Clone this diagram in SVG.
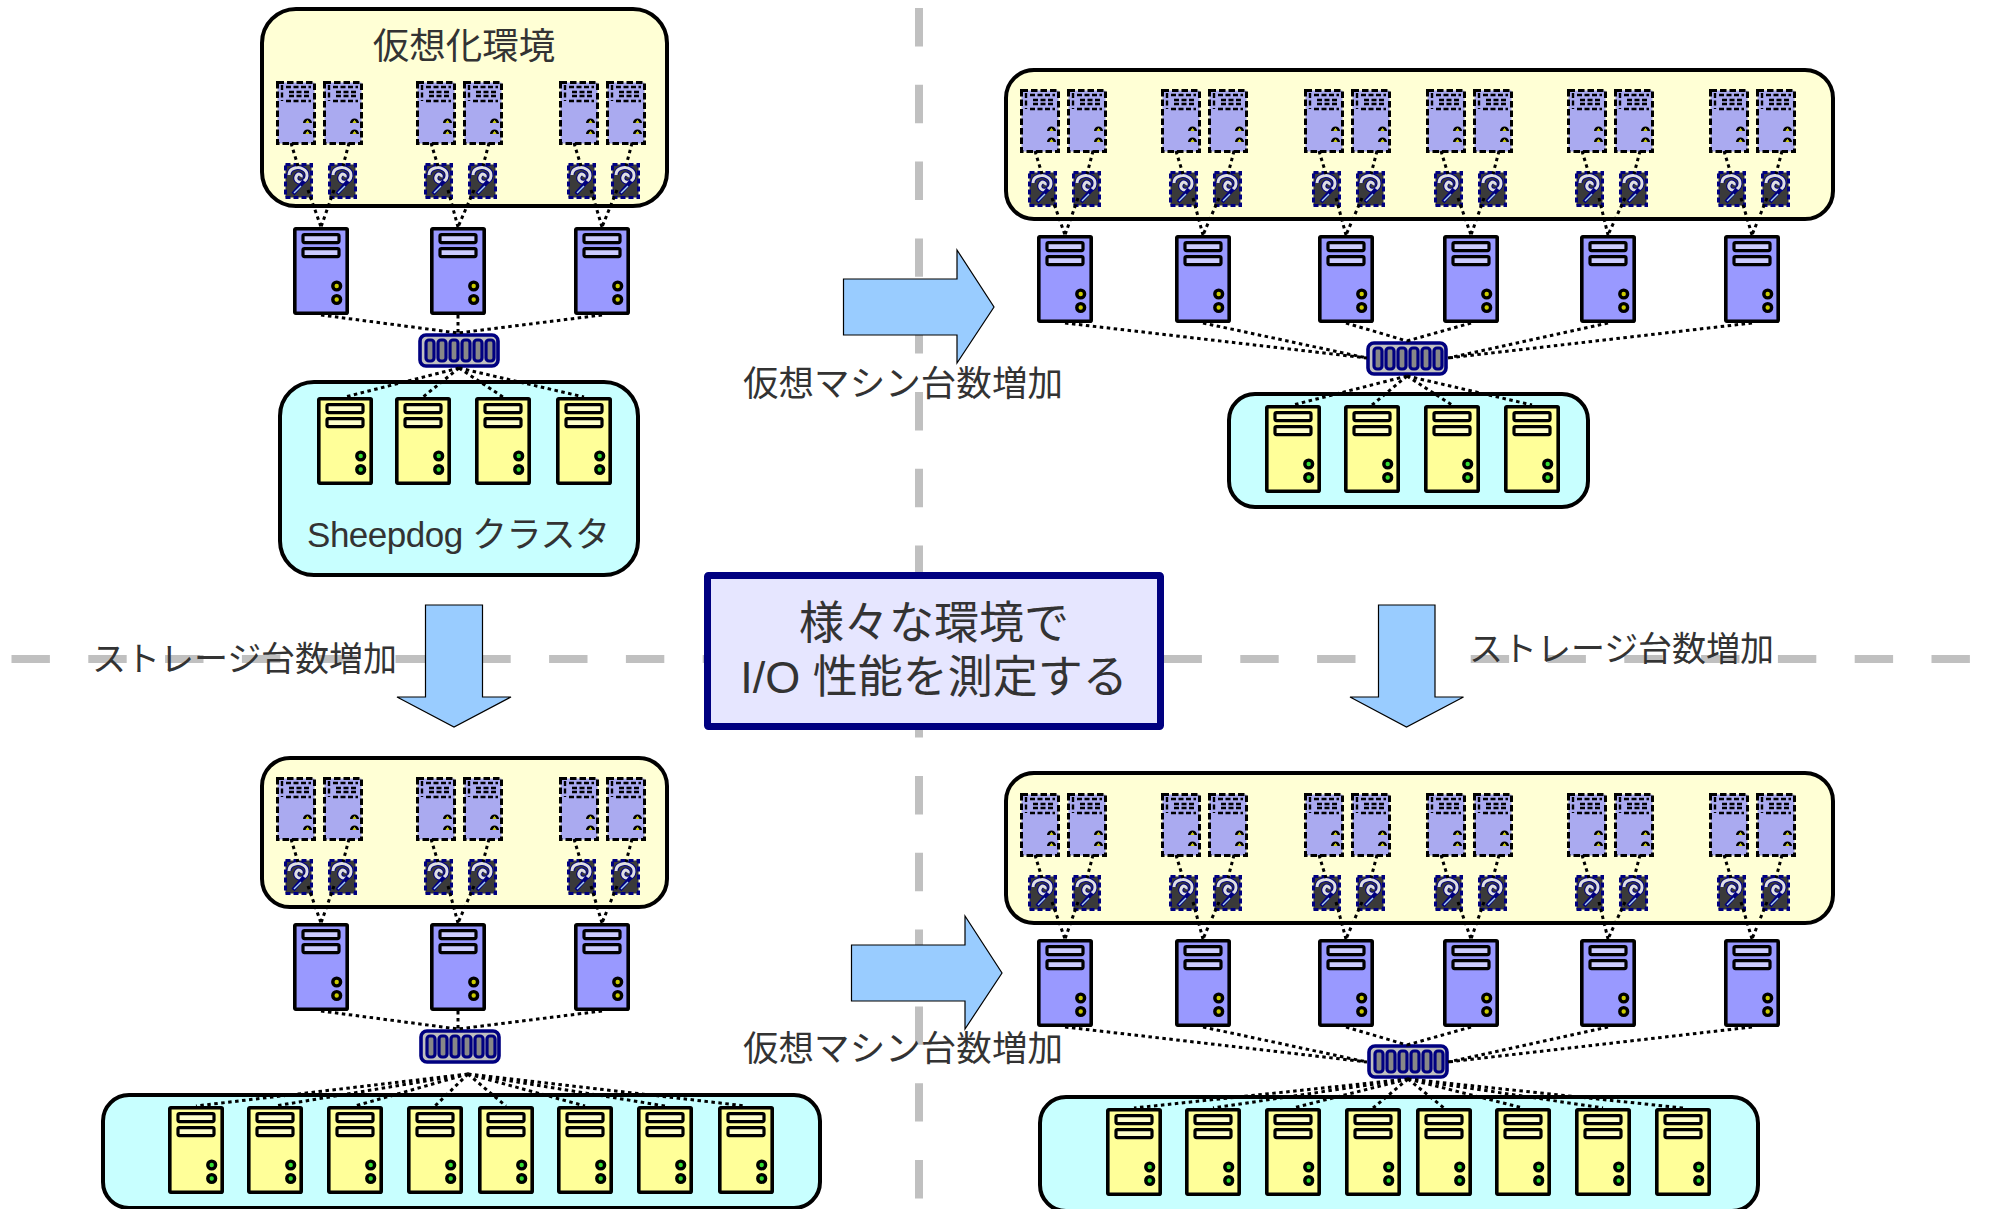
<svg xmlns="http://www.w3.org/2000/svg" xmlns:xlink="http://www.w3.org/1999/xlink" width="1989" height="1209" viewBox="0 0 1989 1209">
<style>
text{font-family:"Liberation Sans","Noto Sans CJK JP",sans-serif;fill:#333}
.guide{stroke:#c0c0c0;stroke-width:8;stroke-dasharray:38.4 38.4;fill:none}
.arrow{fill:#99ccff;stroke:#000;stroke-width:1.2;stroke-linejoin:miter}
.env{fill:#ffffd5;stroke:#000;stroke-width:4}
.cluster{fill:#c8ffff;stroke:#000;stroke-width:4}
.dot{fill:none;stroke:#000;stroke-width:3;stroke-dasharray:3.5 3.5}
.case{stroke:#000;stroke-width:3.6;stroke-linejoin:round}
.slot{stroke:#000;stroke-width:3.2}
.led{stroke:#000;stroke-width:3.4}
.vmd{fill:none;stroke:#000;stroke-width:2.4;stroke-dasharray:5 2.5}
</style>
<defs>
<g id="server-blue">
<rect class="case" x="1.8" y="1.8" width="52.4" height="84.4" rx="1" fill="#9999ff"/>
<rect class="slot" x="10" y="7.6" width="36" height="8" rx="1.5" fill="#ccccff"/>
<rect class="slot" x="10" y="21.6" width="36" height="8" rx="1.5" fill="#ccccff"/>
<circle class="led" cx="43.7" cy="59" r="3.9" fill="#cccc00"/>
<circle class="led" cx="43.7" cy="72.5" r="3.9" fill="#cccc00"/>
</g>
<g id="server-yellow">
<rect class="case" x="1.8" y="1.8" width="52.4" height="84.4" rx="1" fill="#ffff99"/>
<rect class="slot" x="10" y="7.6" width="36" height="8" rx="1.5" fill="#ffffcc"/>
<rect class="slot" x="10" y="21.6" width="36" height="8" rx="1.5" fill="#ffffcc"/>
<circle class="led" cx="43.7" cy="59" r="3.9" fill="#33dd33"/>
<circle class="led" cx="43.7" cy="72.5" r="3.9" fill="#33dd33"/>
</g>
<g id="vm">
<rect x="1.5" y="1.5" width="37" height="61" fill="#aaaaf0" stroke="#000" stroke-width="3" stroke-dasharray="6.5 3"/>
<path class="vmd" d="M6 4V20M10 6H35M13 11H33M13 15H33M10 20H35"/>
<path d="M27 42a4.500 4.500 0 0 1 9 0h-2.500l-2-3-2 3zM27 53a4.500 4.500 0 0 1 9 0h-2.500l-2-3-2 3z" fill="#000"/>
<path d="M29.500 42l2-3 2 3zM29.500 53l2-3 2 3z" fill="#cccc00"/>
</g>
<g id="disk">
<rect x="1.500" y="1.500" width="26" height="33" fill="#3a3a3a" stroke="#000080" stroke-width="3" stroke-dasharray="5 3"/>
<path d="M5 12C5 5 14 3 19 6C25 9 24 17 18 19C13 20 10 16 13 12C15 10 18 12 17 14" fill="none" stroke="#000080" stroke-width="5"/>
<path d="M5 12C5 5 14 3 19 6C25 9 24 17 18 19C13 20 10 16 13 12C15 10 18 12 17 14" fill="none" stroke="#e0e0e0" stroke-width="3"/>
<path d="M20 18L9 31" fill="none" stroke="#000080" stroke-width="4"/>
<path d="M17 23L10 30" fill="none" stroke="#a8d0f0" stroke-width="1.500"/>
</g>
<g id="switch">
<rect x="2" y="2" width="78" height="31" rx="6" fill="#c0c0c0" stroke="#000080" stroke-width="3.600"/>
<g fill="#888" stroke="#000080" stroke-width="3.200">
<rect x="8" y="7" width="8" height="21" rx="3"/>
<rect x="20" y="7" width="8" height="21" rx="3"/>
<rect x="32" y="7" width="8" height="21" rx="3"/>
<rect x="44" y="7" width="8" height="21" rx="3"/>
<rect x="56" y="7" width="8" height="21" rx="3"/>
<rect x="68" y="7" width="8" height="21" rx="3"/>
</g>
</g>
<path id="links-left" d="M291 143L298 166M349 143L343 166M308 190L321 227M334 190L321 227M431 143L438 166M489 143L483 166M448 190L458 227M474 190L458 227M574 143L581 166M632 143L626 166M591 190L602 227M617 190L602 227M321 315L458 333M458 315L458 333M602 315L458 333"/>
<path id="links-right" d="M1035 151L1042 174M1093 151L1087 174M1052 198L1065 235M1078 198L1065 235M1176 151L1183 174M1234 151L1228 174M1193 198L1203 235M1219 198L1203 235M1319 151L1326 174M1377 151L1371 174M1336 198L1346 235M1362 198L1346 235M1441 151L1448 174M1499 151L1493 174M1458 198L1471 235M1484 198L1471 235M1582 151L1589 174M1640 151L1634 174M1599 198L1608 235M1625 198L1608 235M1724 151L1731 174M1782 151L1776 174M1741 198L1752 235M1767 198L1752 235M1065 323L1367 358M1203 323L1367 358M1346 323L1407 341M1471 323L1407 341M1608 323L1448 358M1752 323L1448 358"/>
</defs>

<g id="guides">
<path class="guide" d="M919 8V1209"/>
<path class="guide" d="M11.500 659H1989"/>
</g>

<g id="arrows">
<path id="arrow-right-top" class="arrow" d="M843.500 279H957V250L994 307L957 363V335H843.500Z"/>
<path id="arrow-right-bottom" class="arrow" d="M851.500 945H965V916L1002 973L965 1029V1001H851.500Z"/>
<path id="arrow-down-left" class="arrow" d="M425.500 605H482.500V697H511L454 727L397 697H425.500Z"/>
<path id="arrow-down-right" class="arrow" d="M1378.500 605H1435V697H1463.500L1406.500 727L1350 697H1378.500Z"/>
</g>

<g id="containers">
<rect id="env-tl" class="env" x="262" y="9" width="405" height="197" rx="34"/>
<rect id="env-tr" class="env" x="1006" y="70" width="827" height="149" rx="28"/>
<rect id="env-bl" class="env" x="262" y="758" width="405" height="149" rx="28"/>
<rect id="env-br" class="env" x="1006" y="773" width="827" height="150" rx="28"/>
<rect id="cluster-tl" class="cluster" x="280" y="382" width="358" height="193" rx="34"/>
<rect id="cluster-tr" class="cluster" x="1229" y="394" width="359" height="113" rx="26"/>
<rect id="cluster-bl" class="cluster" x="103" y="1095" width="717" height="113" rx="26"/>
<rect id="cluster-br" class="cluster" x="1040" y="1097" width="718" height="114" rx="26"/>
</g>

<g id="node-tl">
<g id="tl-vm1"><use href="#vm" x="276" y="81"/></g><g id="tl-vm2"><use href="#vm" x="323" y="81"/></g><g id="tl-vm3"><use href="#vm" x="416" y="81"/></g><g id="tl-vm4"><use href="#vm" x="463" y="81"/></g><g id="tl-vm5"><use href="#vm" x="559" y="81"/></g><g id="tl-vm6"><use href="#vm" x="606" y="81"/></g>
<g id="tl-disk1"><use href="#disk" x="284" y="163"/></g><g id="tl-disk2"><use href="#disk" x="328" y="163"/></g><g id="tl-disk3"><use href="#disk" x="424" y="163"/></g><g id="tl-disk4"><use href="#disk" x="468" y="163"/></g><g id="tl-disk5"><use href="#disk" x="567" y="163"/></g><g id="tl-disk6"><use href="#disk" x="611" y="163"/></g>
<g id="tl-host1"><use href="#server-blue" x="293" y="227"/></g><g id="tl-host2"><use href="#server-blue" x="430" y="227"/></g><g id="tl-host3"><use href="#server-blue" x="574" y="227"/></g>
<g id="tl-switch"><use href="#switch" x="418" y="333"/></g>
<g id="tl-store1"><use href="#server-yellow" x="317" y="397"/></g><g id="tl-store2"><use href="#server-yellow" x="395" y="397"/></g><g id="tl-store3"><use href="#server-yellow" x="475" y="397"/></g><g id="tl-store4"><use href="#server-yellow" x="556" y="397"/></g>
</g>

<g id="node-tr">
<g id="tr-vm1"><use href="#vm" x="1020" y="89"/></g><g id="tr-vm2"><use href="#vm" x="1067" y="89"/></g><g id="tr-vm3"><use href="#vm" x="1161" y="89"/></g><g id="tr-vm4"><use href="#vm" x="1208" y="89"/></g><g id="tr-vm5"><use href="#vm" x="1304" y="89"/></g><g id="tr-vm6"><use href="#vm" x="1351" y="89"/></g><g id="tr-vm7"><use href="#vm" x="1426" y="89"/></g><g id="tr-vm8"><use href="#vm" x="1473" y="89"/></g><g id="tr-vm9"><use href="#vm" x="1567" y="89"/></g><g id="tr-vm10"><use href="#vm" x="1614" y="89"/></g><g id="tr-vm11"><use href="#vm" x="1709" y="89"/></g><g id="tr-vm12"><use href="#vm" x="1756" y="89"/></g>
<g id="tr-disk1"><use href="#disk" x="1028" y="171"/></g><g id="tr-disk2"><use href="#disk" x="1072" y="171"/></g><g id="tr-disk3"><use href="#disk" x="1169" y="171"/></g><g id="tr-disk4"><use href="#disk" x="1213" y="171"/></g><g id="tr-disk5"><use href="#disk" x="1312" y="171"/></g><g id="tr-disk6"><use href="#disk" x="1356" y="171"/></g><g id="tr-disk7"><use href="#disk" x="1434" y="171"/></g><g id="tr-disk8"><use href="#disk" x="1478" y="171"/></g><g id="tr-disk9"><use href="#disk" x="1575" y="171"/></g><g id="tr-disk10"><use href="#disk" x="1619" y="171"/></g><g id="tr-disk11"><use href="#disk" x="1717" y="171"/></g><g id="tr-disk12"><use href="#disk" x="1761" y="171"/></g>
<g id="tr-host1"><use href="#server-blue" x="1037" y="235"/></g><g id="tr-host2"><use href="#server-blue" x="1175" y="235"/></g><g id="tr-host3"><use href="#server-blue" x="1318" y="235"/></g><g id="tr-host4"><use href="#server-blue" x="1443" y="235"/></g><g id="tr-host5"><use href="#server-blue" x="1580" y="235"/></g><g id="tr-host6"><use href="#server-blue" x="1724" y="235"/></g>
<g id="tr-switch"><use href="#switch" x="1366" y="341"/></g>
<g id="tr-store1"><use href="#server-yellow" x="1265" y="405"/></g><g id="tr-store2"><use href="#server-yellow" x="1344" y="405"/></g><g id="tr-store3"><use href="#server-yellow" x="1424" y="405"/></g><g id="tr-store4"><use href="#server-yellow" x="1504" y="405"/></g>
</g>

<g id="node-bl">
<g id="bl-vm1"><use href="#vm" x="276" y="777"/></g><g id="bl-vm2"><use href="#vm" x="323" y="777"/></g><g id="bl-vm3"><use href="#vm" x="416" y="777"/></g><g id="bl-vm4"><use href="#vm" x="463" y="777"/></g><g id="bl-vm5"><use href="#vm" x="559" y="777"/></g><g id="bl-vm6"><use href="#vm" x="606" y="777"/></g>
<g id="bl-disk1"><use href="#disk" x="284" y="859"/></g><g id="bl-disk2"><use href="#disk" x="328" y="859"/></g><g id="bl-disk3"><use href="#disk" x="424" y="859"/></g><g id="bl-disk4"><use href="#disk" x="468" y="859"/></g><g id="bl-disk5"><use href="#disk" x="567" y="859"/></g><g id="bl-disk6"><use href="#disk" x="611" y="859"/></g>
<g id="bl-host1"><use href="#server-blue" x="293" y="923"/></g><g id="bl-host2"><use href="#server-blue" x="430" y="923"/></g><g id="bl-host3"><use href="#server-blue" x="574" y="923"/></g>
<g id="bl-switch"><use href="#switch" x="419" y="1029"/></g>
<g id="bl-store1"><use href="#server-yellow" x="168" y="1106"/></g><g id="bl-store2"><use href="#server-yellow" x="247" y="1106"/></g><g id="bl-store3"><use href="#server-yellow" x="327" y="1106"/></g><g id="bl-store4"><use href="#server-yellow" x="407" y="1106"/></g><g id="bl-store5"><use href="#server-yellow" x="478" y="1106"/></g><g id="bl-store6"><use href="#server-yellow" x="557" y="1106"/></g><g id="bl-store7"><use href="#server-yellow" x="637" y="1106"/></g><g id="bl-store8"><use href="#server-yellow" x="718" y="1106"/></g>
</g>

<g id="node-br">
<g id="br-vm1"><use href="#vm" x="1020" y="793"/></g><g id="br-vm2"><use href="#vm" x="1067" y="793"/></g><g id="br-vm3"><use href="#vm" x="1161" y="793"/></g><g id="br-vm4"><use href="#vm" x="1208" y="793"/></g><g id="br-vm5"><use href="#vm" x="1304" y="793"/></g><g id="br-vm6"><use href="#vm" x="1351" y="793"/></g><g id="br-vm7"><use href="#vm" x="1426" y="793"/></g><g id="br-vm8"><use href="#vm" x="1473" y="793"/></g><g id="br-vm9"><use href="#vm" x="1567" y="793"/></g><g id="br-vm10"><use href="#vm" x="1614" y="793"/></g><g id="br-vm11"><use href="#vm" x="1709" y="793"/></g><g id="br-vm12"><use href="#vm" x="1756" y="793"/></g>
<g id="br-disk1"><use href="#disk" x="1028" y="875"/></g><g id="br-disk2"><use href="#disk" x="1072" y="875"/></g><g id="br-disk3"><use href="#disk" x="1169" y="875"/></g><g id="br-disk4"><use href="#disk" x="1213" y="875"/></g><g id="br-disk5"><use href="#disk" x="1312" y="875"/></g><g id="br-disk6"><use href="#disk" x="1356" y="875"/></g><g id="br-disk7"><use href="#disk" x="1434" y="875"/></g><g id="br-disk8"><use href="#disk" x="1478" y="875"/></g><g id="br-disk9"><use href="#disk" x="1575" y="875"/></g><g id="br-disk10"><use href="#disk" x="1619" y="875"/></g><g id="br-disk11"><use href="#disk" x="1717" y="875"/></g><g id="br-disk12"><use href="#disk" x="1761" y="875"/></g>
<g id="br-host1"><use href="#server-blue" x="1037" y="939"/></g><g id="br-host2"><use href="#server-blue" x="1175" y="939"/></g><g id="br-host3"><use href="#server-blue" x="1318" y="939"/></g><g id="br-host4"><use href="#server-blue" x="1443" y="939"/></g><g id="br-host5"><use href="#server-blue" x="1580" y="939"/></g><g id="br-host6"><use href="#server-blue" x="1724" y="939"/></g>
<g id="br-switch"><use href="#switch" x="1367" y="1044"/></g>
<g id="br-store1"><use href="#server-yellow" x="1106" y="1108"/></g><g id="br-store2"><use href="#server-yellow" x="1185" y="1108"/></g><g id="br-store3"><use href="#server-yellow" x="1265" y="1108"/></g><g id="br-store4"><use href="#server-yellow" x="1345" y="1108"/></g><g id="br-store5"><use href="#server-yellow" x="1416" y="1108"/></g><g id="br-store6"><use href="#server-yellow" x="1495" y="1108"/></g><g id="br-store7"><use href="#server-yellow" x="1575" y="1108"/></g><g id="br-store8"><use href="#server-yellow" x="1655" y="1108"/></g>
</g>

<g id="connectors" class="dot">
<use href="#links-left"/>
<use href="#links-left" y="696"/>
<use href="#links-right"/>
<use href="#links-right" y="704"/>
<path d="M459 368L345 397M459 368L423 397M459 368L503 397M459 368L584 397"/>
<path d="M1407 376L1293 405M1407 376L1372 405M1407 376L1452 405M1407 376L1532 405"/>
<path d="M468 1074L196 1106M468 1074L275 1106M468 1074L355 1106M468 1074L435 1106M468 1074L506 1106M468 1074L585 1106M468 1074L665 1106M468 1074L746 1106"/>
<path d="M1408 1079L1134 1108M1408 1079L1213 1108M1408 1079L1293 1108M1408 1079L1373 1108M1408 1079L1444 1108M1408 1079L1523 1108M1408 1079L1603 1108M1408 1079L1683 1108"/>
</g>

<g id="labels">
<text x="464" y="59" font-size="36.500" text-anchor="middle">仮想化環境</text>
<text x="307" y="547" font-size="35" textLength="303">Sheepdog クラスタ</text>
<text x="743" y="396" font-size="35.500" textLength="320">仮想マシン台数増加</text>
<text x="743" y="1061" font-size="35.500" textLength="320">仮想マシン台数増加</text>
<text x="92" y="671" font-size="34" textLength="305">ストレージ台数増加</text>
<text x="1469" y="661" font-size="34" textLength="305">ストレージ台数増加</text>
</g>

<g id="title">
<rect x="707.500" y="575.500" width="453" height="151" rx="1" fill="#e6e6ff" stroke="#000080" stroke-width="7"/>
<text x="934" y="639" font-size="45" text-anchor="middle">様々な環境で</text>
<text x="934" y="693" font-size="45" text-anchor="middle">I/O 性能を測定する</text>
</g>
</svg>
